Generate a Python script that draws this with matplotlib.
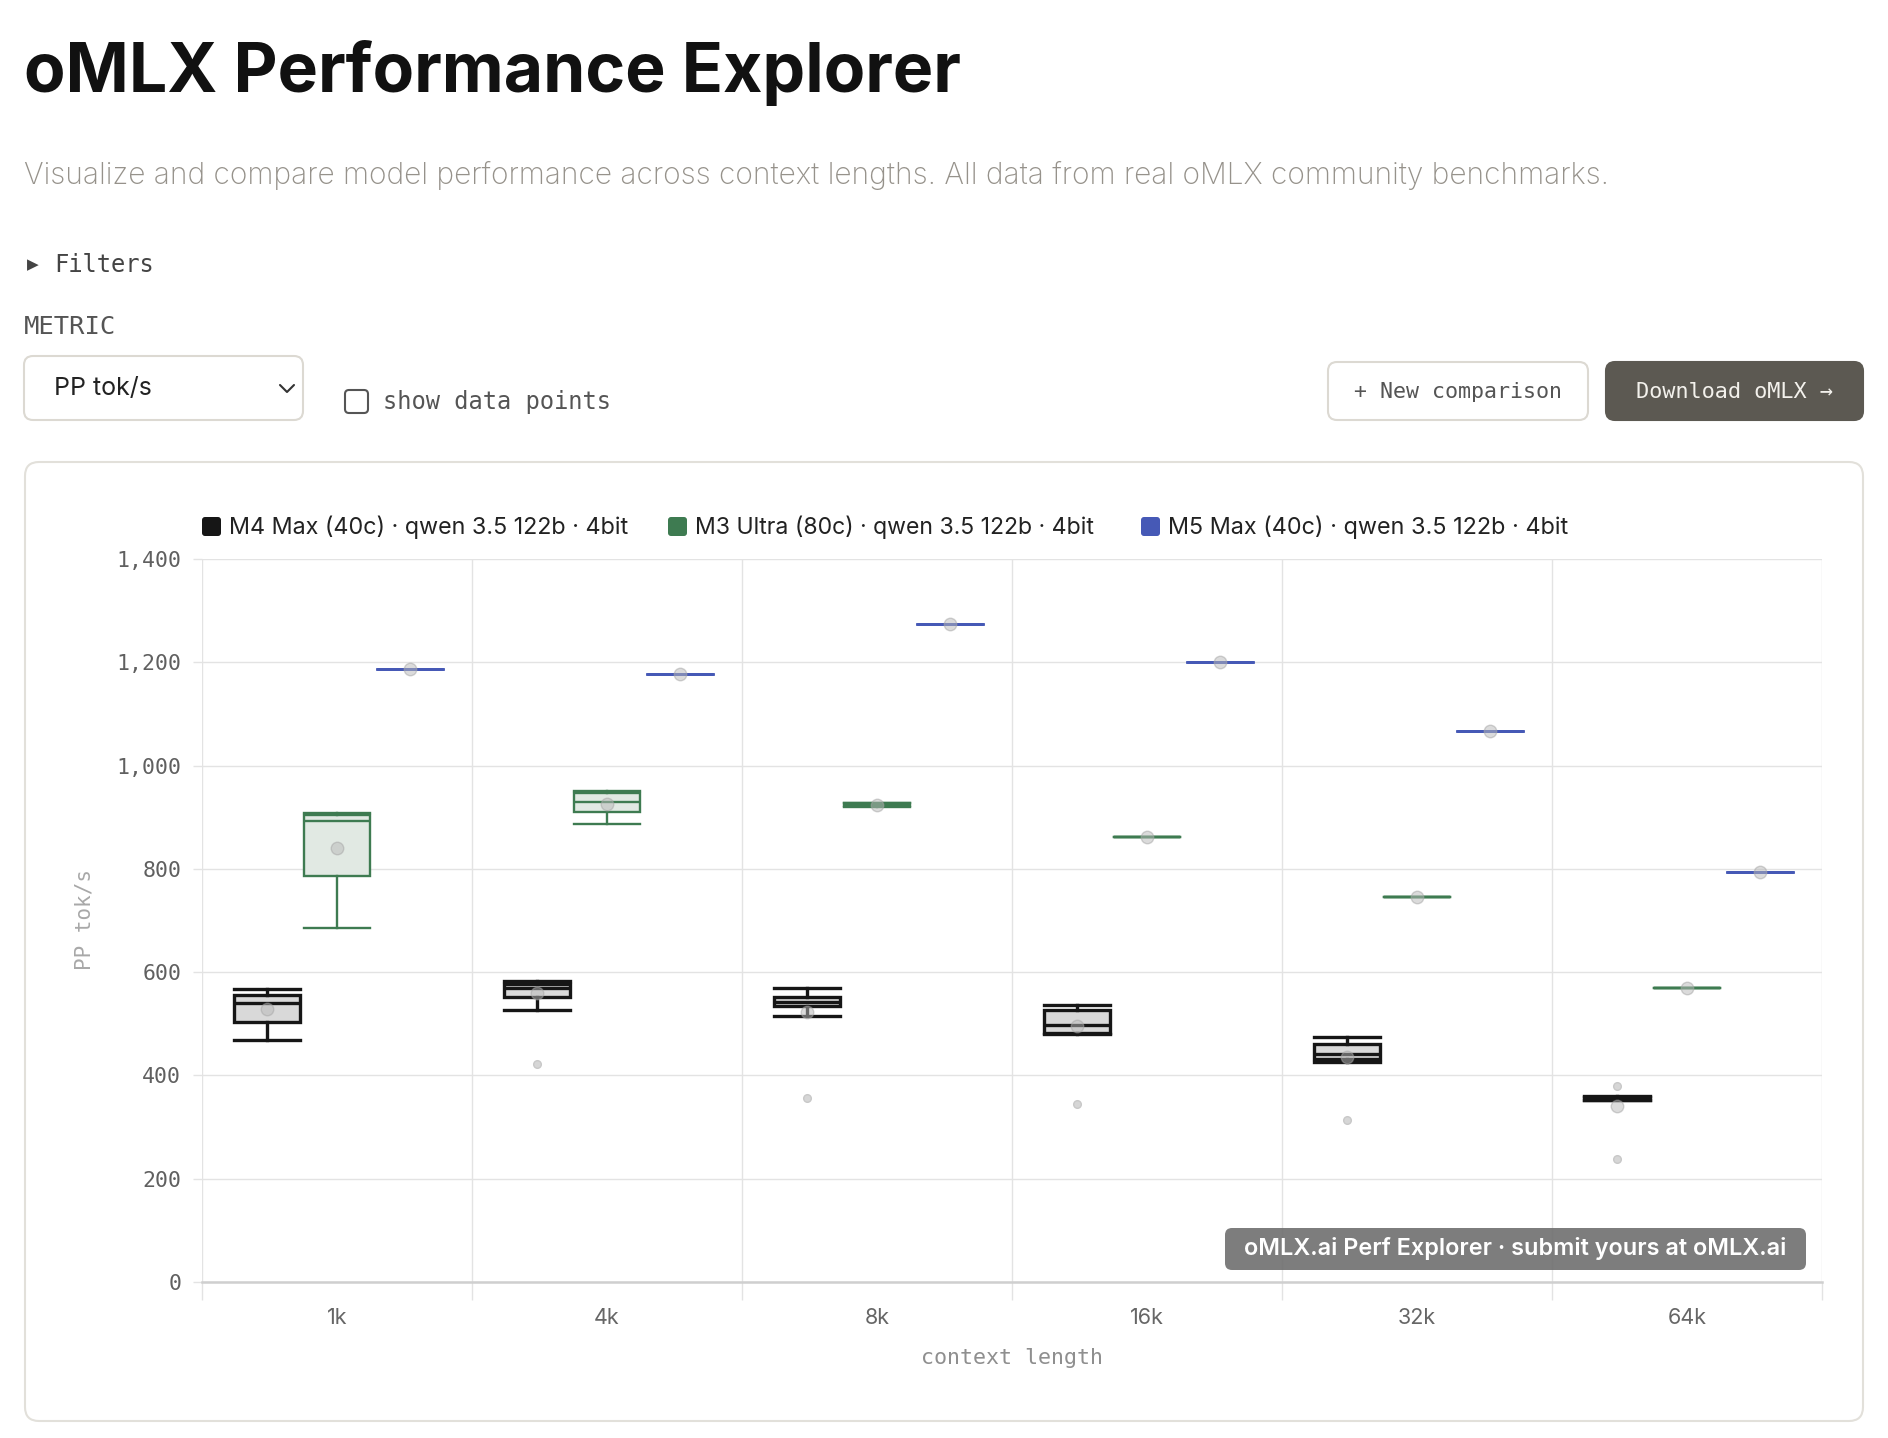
import numpy as np
import matplotlib
matplotlib.use("Agg")
import matplotlib.pyplot as plt
from matplotlib.patches import FancyBboxPatch
from matplotlib.ticker import FuncFormatter, FixedLocator

W, H = 1888, 1438

contexts = ["1k", "4k", "8k", "16k", "32k", "64k"]
series_names = ["M4 Max (40c) · qwen 3.5 122b · 4bit",
                "M3 Ultra (80c) · qwen 3.5 122b · 4bit",
                "M5 Max (40c) · qwen 3.5 122b · 4bit"]
series_colors = ["#161616", "#3e7b51", "#4659b6"]
box_fills = ["#d9d9d9", "#e1e9e3", "#e3e6f3"]
y_ticks = [0, 200, 400, 600, 800, 1000, 1200, 1400]

# M4 Max (40c): several runs per context
m4_low = [469, 527, 515, 481, 426, 352]
m4_q1 = [503, 552, 535, 482, 431, 353]
m4_med = [540, 570, 543, 497, 441, 356]
m4_q3 = [555, 577, 552, 526, 460, 359]
m4_high = [567, 583, 570, 537, 475, 360]
m4_mean = [529, 560, 523, 495, 435, 341]
m4_out = [[], [422], [356], [345], [313], [380, 238]]

# M3 Ultra (80c)
m3_low = [686, 887, 920, 861, 745, 569]
m3_q1 = [786, 911, 921, 861, 745, 569]
m3_med = [893, 930, 924, 861, 745, 569]
m3_q3 = [905, 946, 927, 861, 745, 569]
m3_high = [909, 951, 928, 861, 745, 569]
m3_mean = [840, 926, 924, 861, 745, 569]
m3_out = [[], [], [], [], [], []]

# M5 Max (40c): single run per context
m5_val = [1187, 1178, 1274, 1200, 1066, 794]

SANS = ["Inter", "DejaVu Sans"]
MONO = ["DejaVu Sans Mono"]


def make_stats(low, q1, med, q3, high, mean, out):
    return [dict(whislo=a, q1=b, med=c, q3=d, whishi=e, mean=f, fliers=g)
            for a, b, c, d, e, f, g in zip(low, q1, med, q3, high, mean, out)]


series_stats = [
    make_stats(m4_low, m4_q1, m4_med, m4_q3, m4_high, m4_mean, m4_out),
    make_stats(m3_low, m3_q1, m3_med, m3_q3, m3_high, m3_mean, m3_out),
    make_stats(m5_val, m5_val, m5_val, m5_val, m5_val, m5_val, [[] for _ in m5_val]),
]

fig = plt.figure(figsize=(W / 100, H / 100), dpi=100)
fig.patch.set_facecolor("white")

# page layer in pixel coordinates
bg = fig.add_axes([0, 0, 1, 1], zorder=0)
bg.set_xlim(0, W)
bg.set_ylim(H, 0)
bg.axis("off")


def fit(t, width):
    r = fig.canvas.get_renderer()
    w = t.get_window_extent(r).width
    t.set_fontsize(t.get_fontsize() * width / w)
    return t


def rbox(x, y, w, h, r, fc, ec, lw=1.5):
    p = FancyBboxPatch((x, y), w, h, boxstyle=f"round,pad=0,rounding_size={r}",
                       fc=fc, ec=ec, lw=lw)
    bg.add_patch(p)
    return p


# header
t = bg.text(24, 92, "oMLX Performance Explorer", family=SANS, weight="bold",
            fontsize=50, color="#111111", va="baseline")
fit(t, 938)
t = bg.text(24, 184, "Visualize and compare model performance across context lengths. "
            "All data from real oMLX community benchmarks.",
            family=SANS, weight="light", fontsize=20, color="#96928b", va="baseline")
fit(t, 1582)

bg.text(27, 265, "▶", family=["DejaVu Sans"], fontsize=11, color="#444444", va="center")
t = bg.text(54, 265, "Filters", family=MONO, fontsize=16, color="#444444", va="center")
fit(t, 100)
t = bg.text(24, 327, "METRIC", family=MONO, fontsize=16, color="#555555", va="center")
fit(t, 92)

# metric dropdown
rbox(24, 356, 279, 64, 9, "white", "#dcd9d2")
t = bg.text(54, 389, "PP tok/s", family=SANS, fontsize=18, color="#222222", va="center")
fit(t, 98)
bg.plot([280, 287, 294], [385, 392, 385], color="#333333", lw=1.5, solid_capstyle="round")

# checkbox
rbox(345, 390, 23, 23, 4, "white", "#555555", lw=1.5)
t = bg.text(383, 402, "show data points", family=MONO, fontsize=16, color="#555555", va="center")
fit(t, 229)

# buttons
rbox(1328, 362, 260, 58, 9, "white", "#dcd9d2")
t = bg.text(1458, 392, "+ New comparison", family=MONO, fontsize=15, color="#555555",
            ha="center", va="center")
fit(t, 210)
rbox(1606, 362, 257, 58, 9, "#5c5952", "#5c5952")
t = bg.text(1734, 392, "Download oMLX →", family=MONO, fontsize=15, color="#f3f1ec",
            ha="center", va="center")
fit(t, 199)

# chart card
rbox(25, 462, 1838, 959, 14, "white", "#e2e0da")

# legend
legend_x = [202, 668, 1141]
for k in range(3):
    rbox(legend_x[k], 517, 19, 19, 3, series_colors[k], series_colors[k], lw=0)
    t = bg.text(legend_x[k] + 27, 527, series_names[k], family=SANS, fontsize=16,
                color="#222222", va="center")
    fit(t, 400)

# chart
ax = fig.add_axes([202 / W, 1 - 1282 / H, 1620 / W, 723 / H], zorder=1)
ax.set_facecolor("white")
ax.set_xlim(-0.5, len(contexts) - 0.5)
ax.set_ylim(0, 1400)

offsets = [-0.26, 0.0, 0.27]
line_w = [2.4, 1.7, 1.8]
for k in range(3):
    col = series_colors[k]
    lw = line_w[k]
    ax.bxp(series_stats[k], positions=np.arange(len(contexts)) + offsets[k],
           widths=0.245, capwidths=0.245, showmeans=True, showfliers=True,
           patch_artist=True, manage_ticks=False,
           boxprops=dict(facecolor=box_fills[k], edgecolor=col, linewidth=lw),
           medianprops=dict(color=col, linewidth=lw),
           whiskerprops=dict(color=col, linewidth=lw),
           capprops=dict(color=col, linewidth=lw),
           meanprops=dict(marker="o", markerfacecolor="#b9b9b9", markeredgecolor="#a5a5a5",
                          alpha=0.5, markersize=9),
           flierprops=dict(marker="o", markerfacecolor="#d6d6d6", markeredgecolor="#c8c8c8",
                           markersize=5.5))

for s in ["top", "right", "left"]:
    ax.spines[s].set_visible(False)
ax.spines["bottom"].set_color("#cfcfcf")
ax.spines["bottom"].set_linewidth(1.8)

ax.set_yticks(y_ticks)
ax.yaxis.set_major_formatter(FuncFormatter(lambda v, p: f"{int(v):,}"))
ax.tick_params(axis="y", length=6.5, width=1, color="#e3e3e3", pad=8.5,
               labelsize=15.5, labelcolor="#606060")
for lab in ax.get_yticklabels():
    lab.set_family(MONO)

ax.xaxis.set_major_locator(FixedLocator(np.arange(len(contexts) + 1) - 0.5))
ax.xaxis.set_minor_locator(FixedLocator(np.arange(len(contexts))))
ax.set_xticklabels([], minor=False)
ax.set_xticklabels(contexts, minor=True)
ax.tick_params(axis="x", which="major", length=13, width=1, color="#e3e3e3")
ax.tick_params(axis="x", which="minor", length=0, pad=19, labelsize=15.5, labelcolor="#666666")
for lab in ax.get_xticklabels(minor=True):
    lab.set_family(SANS)

ax.grid(True, which="major", color="#e3e3e3", linewidth=1.0)
ax.set_axisbelow(True)

# axis titles
bg.text(84, 920, "PP tok/s", family=MONO, fontsize=15, color="#a8a8a8",
        rotation=90, ha="center", va="center")
t = bg.text(1012, 1358, "context length", family=MONO, fontsize=15, color="#8f8f8f",
            ha="center", va="center")
fit(t, 184)

# watermark
wm = FancyBboxPatch((1225, 1228), 581, 42, boxstyle="round,pad=0,rounding_size=7",
                    fc="#6f6f6f", ec="none", alpha=0.9, transform=bg.transData,
                    clip_on=False, zorder=10)
ax.add_patch(wm)
t = ax.text(1515, 1249, "oMLX.ai Perf Explorer · submit yours at oMLX.ai", family=SANS,
            weight="semibold", fontsize=16, color="white", ha="center", va="center",
            transform=bg.transData, zorder=11)
fit(t, 542)

fig.savefig("out.png", dpi=100)
